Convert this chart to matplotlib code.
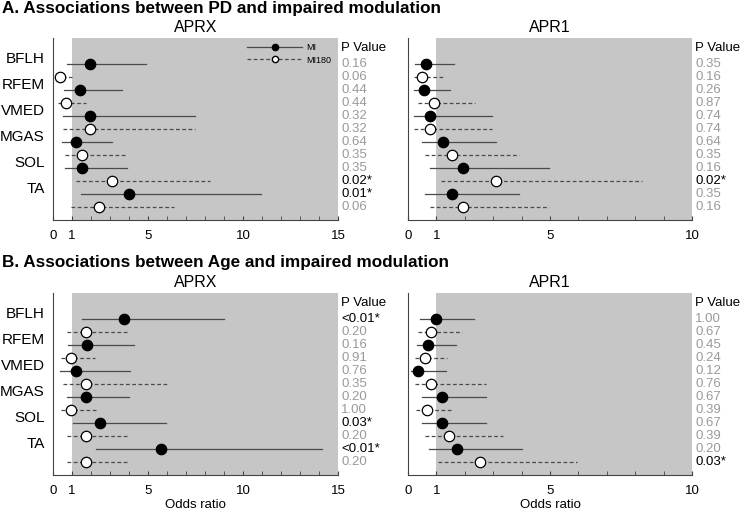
import matplotlib

matplotlib.use("Agg")
import matplotlib.pyplot as plt
from matplotlib.lines import Line2D

plt.rcParams["font.family"] = ["Liberation Sans", "DejaVu Sans"]

muscles = ["BFLH", "RFEM", "VMED", "MGAS", "SOL", "TA"]

# rows go MI, MI180 for each muscle, top to bottom
# Panel A (PD), APRX
a_aprx_or = [1.93, 0.37, 1.40, 0.67, 1.96, 1.96, 1.23, 1.54, 1.54, 3.12, 4.00, 2.42]
a_aprx_lo = [0.75, 0.18, 0.56, 0.26, 0.53, 0.53, 0.49, 0.61, 0.61, 1.19, 1.46, 0.93]
a_aprx_hi = [4.91, 1.02, 3.65, 1.75, 7.46, 7.46, 3.10, 3.89, 3.89, 8.25, 10.96, 6.35]
a_aprx_p = ["0.16", "0.06", "0.44", "0.44", "0.32", "0.32", "0.64", "0.35", "0.35", "0.02*", "0.01*", "0.06"]

# Panel A (PD), APR1
a_apr1_or = [0.65, 0.49, 0.56, 0.92, 0.79, 0.79, 1.23, 1.55, 1.94, 3.11, 1.54, 1.94]
a_apr1_lo = [0.23, 0.20, 0.21, 0.35, 0.20, 0.20, 0.49, 0.60, 0.76, 1.17, 0.60, 0.76]
a_apr1_hi = [1.62, 1.26, 1.49, 2.35, 2.97, 2.97, 3.11, 3.91, 4.95, 8.25, 3.91, 4.95]
a_apr1_p = ["0.35", "0.16", "0.26", "0.87", "0.74", "0.74", "0.64", "0.35", "0.16", "0.02*", "0.35", "0.16"]

# Panel B (Age), APRX
b_aprx_or = [3.72, 1.72, 1.81, 0.93, 1.19, 1.75, 1.72, 0.96, 2.49, 1.72, 5.67, 1.72]
b_aprx_lo = [1.53, 0.74, 0.79, 0.40, 0.35, 0.53, 0.74, 0.40, 1.05, 0.74, 2.25, 0.74]
b_aprx_hi = [9.00, 4.00, 4.26, 2.19, 4.04, 6.02, 4.00, 2.28, 5.93, 4.00, 14.18, 4.00]
b_aprx_p = ["<0.01*", "0.20", "0.16", "0.91", "0.76", "0.35", "0.20", "1.00", "0.03*", "0.20", "<0.01*", "0.20"]

# Panel B (Age), APR1
b_apr1_or = [1.00, 0.82, 0.72, 0.59, 0.36, 0.82, 1.20, 0.68, 1.20, 1.43, 1.73, 2.52]
b_apr1_lo = [0.41, 0.35, 0.32, 0.25, 0.09, 0.23, 0.50, 0.29, 0.50, 0.60, 0.73, 1.06]
b_apr1_hi = [2.31, 1.91, 1.68, 1.38, 1.33, 2.76, 2.76, 1.56, 2.76, 3.35, 4.01, 5.95]
b_apr1_p = ["1.00", "0.67", "0.45", "0.24", "0.12", "0.76", "0.67", "0.39", "0.67", "0.39", "0.20", "0.03*"]

SHADE = "#c6c6c6"
LINE = "#4a4a4a"
PGRAY = "#9a9a9a"


def forest(ax, est, lo, hi, pvals, xmax, title, show_names, show_xlabel, legend=False):
    n = len(est)
    ys = [n - i for i in range(n)]
    ax.axvspan(1, xmax, color=SHADE, lw=0, zorder=0)
    for i, y in enumerate(ys):
        mi180 = i % 2 == 1
        ax.plot([lo[i], hi[i]], [y, y], color=LINE, lw=0.9,
                ls=(0, (3, 2)) if mi180 else "-", zorder=2)
        ax.plot(est[i], y, "o", ms=7.5, mec="black", mew=0.9,
                mfc="white" if mi180 else "black", zorder=3)
        sig = pvals[i].endswith("*")
        ax.text(1.012, y, pvals[i], transform=ax.get_yaxis_transform(),
                va="center", ha="left", fontsize=9.5,
                color="black" if sig else PGRAY)
    ax.text(1.012, 13.2, "P Value", transform=ax.get_yaxis_transform(),
            va="center", ha="left", fontsize=9.5)
    ax.set_xlim(0, xmax)
    ax.set_ylim(0, 14)
    ax.set_xticks([0, 1, 5, 10] + ([15] if xmax == 15 else []))
    ax.set_xticks(range(0, xmax + 1), minor=True)
    ax.tick_params(axis="x", which="both", direction="in", length=3,
                   labelsize=9.5, pad=7, color="#444444")
    ax.tick_params(axis="y", length=0, labelsize=11, pad=6)
    if show_names:
        ax.set_yticks([12.5 - 2 * k for k in range(len(muscles))])
        ax.set_yticklabels(muscles)
    else:
        ax.set_yticks([])
    for s in ("top", "right"):
        ax.spines[s].set_visible(False)
    for s in ("left", "bottom"):
        ax.spines[s].set_linewidth(0.8)
        ax.spines[s].set_color("#444444")
    ax.set_title(title, fontsize=11.5, pad=4)
    if show_xlabel:
        ax.set_xlabel("Odds ratio", fontsize=9.5, labelpad=2)
    if legend:
        handles = [
            Line2D([], [], color=LINE, lw=0.9, marker="o", ms=4.5,
                   mfc="black", mec="black"),
            Line2D([], [], color=LINE, lw=0.9, ls=(0, (3, 2)), marker="o",
                   ms=4.5, mfc="white", mec="black"),
        ]
        ax.legend(handles, ["MI", "MI180"], loc="upper right",
                  bbox_to_anchor=(0.995, 1.0), frameon=False, fontsize=6.5,
                  handlelength=6.0, handletextpad=0.5, labelspacing=0.35,
                  borderaxespad=0.2)


fig = plt.figure(figsize=(7.4, 5.12), dpi=100)
W, H = 740, 512


def add_ax(x0, y0, x1, y1):
    return fig.add_axes([x0 / W, 1 - y1 / H, (x1 - x0) / W, (y1 - y0) / H])


ax1 = add_ax(53, 38, 338, 220)
ax2 = add_ax(408, 38, 692, 220)
ax3 = add_ax(53, 293, 338, 475)
ax4 = add_ax(408, 293, 692, 475)

forest(ax1, a_aprx_or, a_aprx_lo, a_aprx_hi, a_aprx_p, 15, "APRX", True, False, legend=True)
forest(ax2, a_apr1_or, a_apr1_lo, a_apr1_hi, a_apr1_p, 10, "APR1", False, False)
forest(ax3, b_aprx_or, b_aprx_lo, b_aprx_hi, b_aprx_p, 15, "APRX", True, True)
forest(ax4, b_apr1_or, b_apr1_lo, b_apr1_hi, b_apr1_p, 10, "APR1", False, True)

fig.text(2 / W, 1 - 8 / H, "A. Associations between PD and impaired modulation",
         fontsize=12.3, fontweight="bold", va="center", ha="left")
fig.text(2 / W, 1 - 263 / H, "B. Associations between Age and impaired modulation",
         fontsize=12.3, fontweight="bold", va="center", ha="left")

fig.savefig("out.png", dpi=100)
